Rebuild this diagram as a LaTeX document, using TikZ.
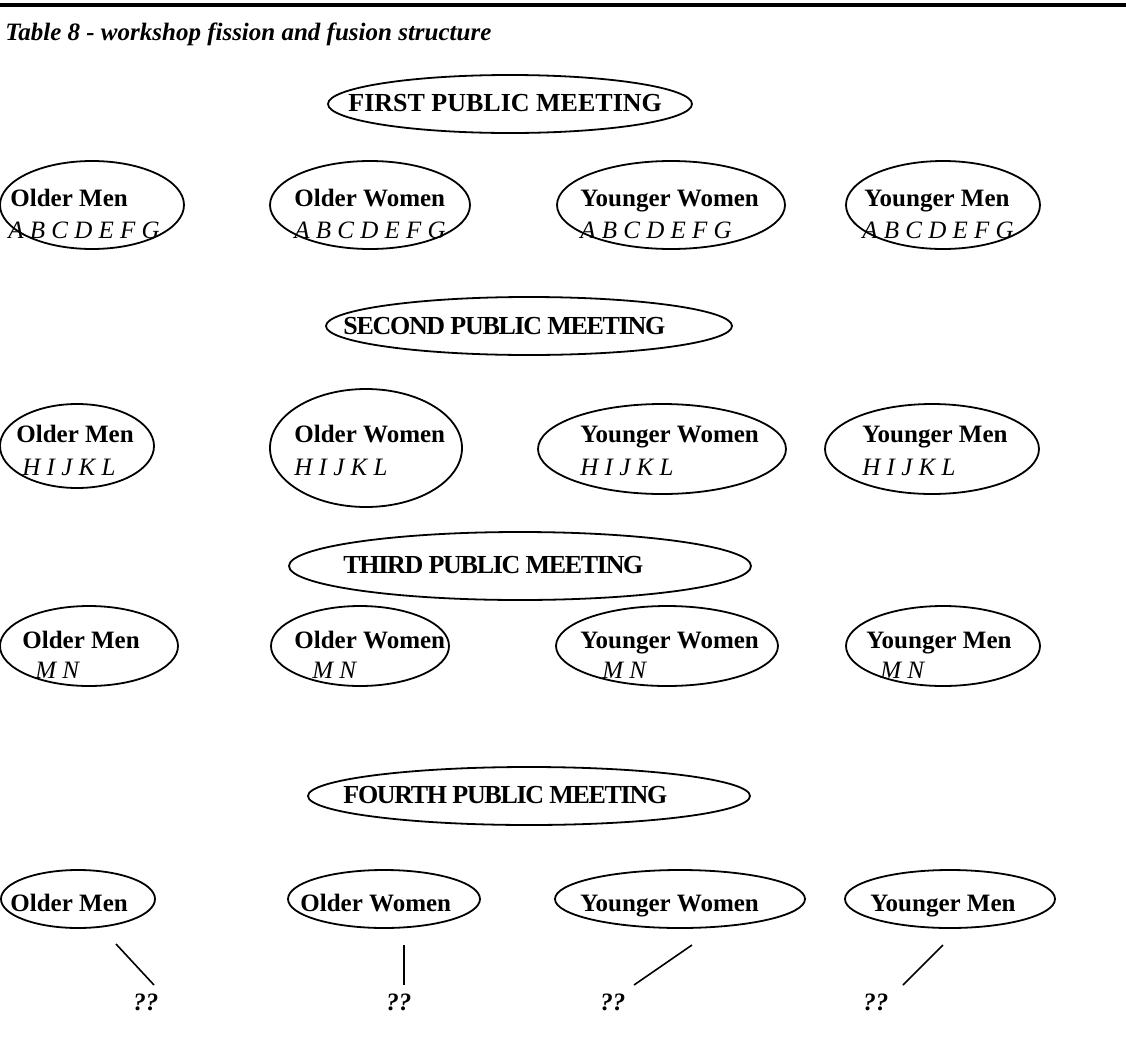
\documentclass[tikz,border=0pt]{standalone}
\usepackage{fontspec}
\setmainfont{Liberation Serif}
\newfontfamily\tightfont[LetterSpace=-5]{Liberation Serif}
\usetikzlibrary{shapes.geometric}
\tikzset{
  grp/.style={draw=black, ellipse, line width=0.9pt, inner sep=0pt},
  lab/.style={anchor=base west, inner sep=0pt, font=\fontsize{12.5}{15}\selectfont\bfseries},
  meet/.style={anchor=base west, inner sep=0pt, font=\fontsize{13}{15}\selectfont\tightfont\bfseries},
  mem/.style={anchor=base west, inner sep=0pt, font=\fontsize{12.5}{15}\selectfont\itshape},
  ask/.style={anchor=base west, inner sep=0pt, font=\fontsize{12.5}{15}\selectfont\bfseries\itshape},
  link/.style={draw=black, line width=0.8pt},
}
\begin{document}
\begin{tikzpicture}[x=0.5pt,y=-0.5pt]
  \useasboundingbox (0,0) rectangle (1126,1045);
  \draw[line width=2pt] (0,5) -- (1126,5);
  \node[ask] (title) at (5,40) {Table 8 - workshop fission and fusion structure};

  % first meeting
  \node[grp, minimum width=182pt, minimum height=29pt] (m1) at (510,104) {};
  \node[meet, font=\fontsize{13}{15}\selectfont\bfseries] (m1t) at (348,111) {FIRST PUBLIC MEETING};
  \node[grp, minimum width=92pt, minimum height=44pt] (om1) at (92,205) {};
  \node[grp, minimum width=100pt, minimum height=44pt] (ow1) at (370,205) {};
  \node[grp, minimum width=114pt, minimum height=44pt] (yw1) at (671,205) {};
  \node[grp, minimum width=97pt, minimum height=44pt] (ym1) at (943,205) {};
  \node[lab] (om1t) at (10,206) {Older Men};
  \node[mem] (om1m) at (8,238) {A B C D E F G};
  \node[lab] (ow1t) at (294,206) {Older Women};
  \node[mem] (ow1m) at (294,238) {A B C D E F G};
  \node[lab] (yw1t) at (580,206) {Younger Women};
  \node[mem] (yw1m) at (580,238) {A B C D E F G};
  \node[lab] (ym1t) at (864,206) {Younger Men};
  \node[mem] (ym1m) at (862,238) {A B C D E F G};

  % second meeting
  \node[grp, minimum width=203pt, minimum height=29pt] (m2) at (529,326) {};
  \node[meet] (m2t) at (343,334) {SECOND PUBLIC MEETING};
  \node[grp, minimum width=77pt, minimum height=42pt] (om3) at (77,446) {};
  \node[grp, minimum width=96pt, minimum height=59pt] (ow3) at (366,448) {};
  \node[grp, minimum width=124pt, minimum height=45pt] (yw3) at (662,449) {};
  \node[grp, minimum width=107pt, minimum height=45pt] (ym3) at (932,449) {};
  \node[lab] (om3t) at (16,442) {Older Men};
  \node[mem] (om3m) at (22,475) {H I J K L};
  \node[lab] (ow3t) at (294,442) {Older Women};
  \node[mem] (ow3m) at (294,475) {H I J K L};
  \node[lab] (yw3t) at (580,442) {Younger Women};
  \node[mem] (yw3m) at (580,475) {H I J K L};
  \node[lab] (ym3t) at (862,442) {Younger Men};
  \node[mem] (ym3m) at (862,475) {H I J K L};

  % third meeting
  \node[grp, minimum width=231pt, minimum height=34pt] (m4) at (520,566) {};
  \node[meet] (m4t) at (343,573) {THIRD PUBLIC MEETING};
  \node[grp, minimum width=89pt, minimum height=40pt] (om5) at (89,646) {};
  \node[grp, minimum width=89pt, minimum height=40pt] (ow5) at (360,646) {};
  \node[grp, minimum width=111pt, minimum height=40pt] (yw5) at (667,646) {};
  \node[grp, minimum width=97pt, minimum height=40pt] (ym5) at (943,646) {};
  \node[lab] (om5t) at (22,648) {Older Men};
  \node[mem] (om5m) at (35,678) {M N};
  \node[lab] (ow5t) at (294,648) {Older Women};
  \node[mem] (ow5m) at (312,678) {M N};
  \node[lab] (yw5t) at (580,648) {Younger Women};
  \node[mem] (yw5m) at (602,678) {M N};
  \node[lab] (ym5t) at (866,648) {Younger Men};
  \node[mem] (ym5m) at (880,678) {M N};

  % fourth meeting
  \node[grp, minimum width=221pt, minimum height=29pt] (m6) at (529,796) {};
  \node[meet] (m6t) at (343,803) {FOURTH PUBLIC MEETING};
  \node[grp, minimum width=77pt, minimum height=29pt] (om7) at (78,899) {};
  \node[grp, minimum width=96pt, minimum height=29pt] (ow7) at (384,899) {};
  \node[grp, minimum width=125pt, minimum height=29pt] (yw7) at (680,899) {};
  \node[grp, minimum width=105pt, minimum height=29pt] (ym7) at (950,899) {};
  \node[lab] (om7t) at (10,911) {Older Men};
  \node[lab] (ow7t) at (300,911) {Older Women};
  \node[lab] (yw7t) at (580,911) {Younger Women};
  \node[lab] (ym7t) at (870,911) {Younger Men};

  % open ends
  \coordinate (om7a) at (116,944); \coordinate (om7b) at (154,985);
  \coordinate (ow7a) at (404,945); \coordinate (ow7b) at (404,985);
  \coordinate (yw7a) at (692,945); \coordinate (yw7b) at (634,985);
  \coordinate (ym7a) at (943,945); \coordinate (ym7b) at (903,985);
  \draw[link] (om7a) -- (om7b);
  \draw[link] (ow7a) -- (ow7b);
  \draw[link] (yw7a) -- (yw7b);
  \draw[link] (ym7a) -- (ym7b);
  \node[ask] (om7q) at (133,1010) {??};
  \node[ask] (ow7q) at (386,1010) {??};
  \node[ask] (yw7q) at (600,1010) {??};
  \node[ask] (ym7q) at (863,1010) {??};
\end{tikzpicture}
\end{document}
